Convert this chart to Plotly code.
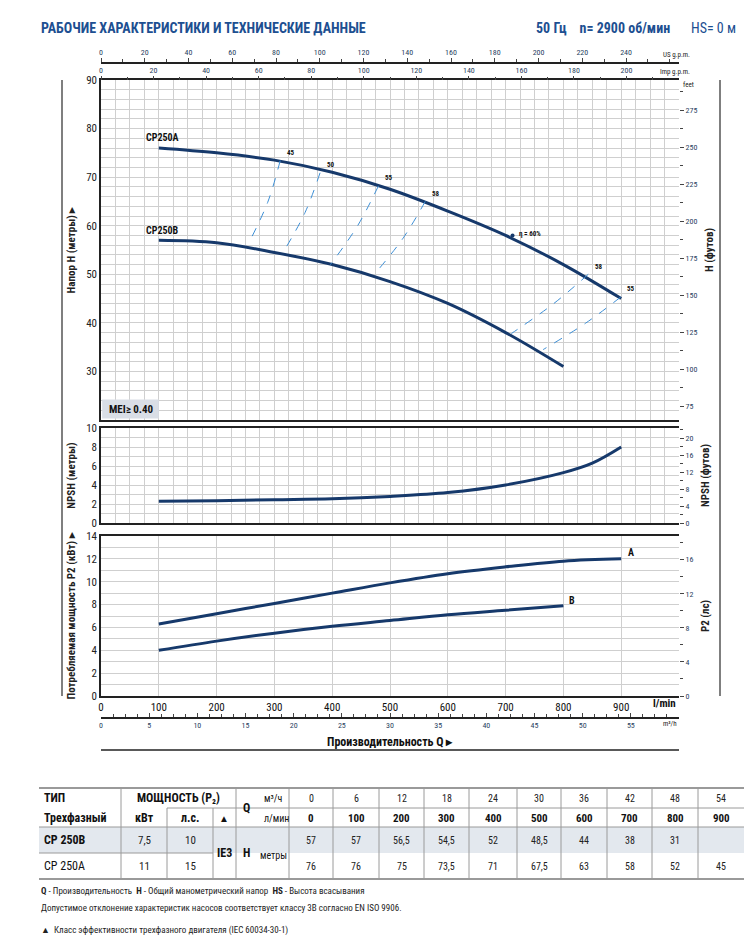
import plotly.graph_objects as go

# ---- data ----
q_h = [100, 200, 300, 400, 500, 600, 700, 800, 900]
h_A = [76, 75, 73.5, 71, 67.5, 63, 58, 52, 45]
q_hB = [100, 200, 300, 400, 500, 600, 700, 800]
h_B = [57, 56.5, 54.5, 52, 48.5, 44, 38, 31]
q_npsh = [100, 200, 300, 400, 500, 600, 700, 800, 850, 900]
npsh = [2.3, 2.35, 2.45, 2.55, 2.8, 3.2, 4.0, 5.3, 6.3, 8.0]
p2_A = [6.3, 7.2, 8.1, 9.0, 9.9, 10.7, 11.3, 11.8, 12.0]
p2_B = [4.0, 4.8, 5.5, 6.1, 6.6, 7.1, 7.5, 7.9]
eff_labels = ["45", "50", "55", "58", "58", "55"]
eff_A = [(310, 73.4), (379, 70.9), (480, 68.2), (561, 65.0), (843, 50.0), (899, 45.3)]
eff_B = [(255, 56.3), (315, 54.5), (397, 52.0), (473, 50.0), (710, 37.8), (765, 34.5)]

tbl_m3h = ["0", "6", "12", "18", "24", "30", "36", "42", "48", "54"]
tbl_lmin = ["0", "100", "200", "300", "400", "500", "600", "700", "800", "900"]
tbl_B = ["57", "57", "56,5", "54,5", "52", "48,5", "44", "38", "31", ""]
tbl_A = ["76", "76", "75", "73,5", "71", "67,5", "63", "58", "52", "45"]

NAVY = "#16396b"
BLUE = "#1d4f91"
DASH = "#3d8fd6"
GRID = "#cfcfcf"
FONT = "Liberation Sans Narrow, Roboto Condensed, Liberation Sans, Arial"

OX = 8  # page body margin
W, H = 754 - OX, 952 - OX
L, T = 101 - OX, 40 - OX
R = W - (679 - OX)
B = H - (752 - OX)
PW, PH = W - L - R, H - T - B

def px(x):
    return (x - OX - L) / PW

def py(y):
    return (H - B - (y - OX)) / PH

fig = go.Figure()
line = dict(color=NAVY, width=3, shape="spline")
fig.add_trace(go.Scatter(x=q_h, y=h_A, mode="lines", line=line, xaxis="x", yaxis="y"))
fig.add_trace(go.Scatter(x=q_hB, y=h_B, mode="lines", line=line, xaxis="x", yaxis="y"))
for (qa, ha), (qb, hb) in zip(eff_A, eff_B):
    fig.add_trace(go.Scatter(x=[qa, (qa + qb) / 2 + 6, qb], y=[ha, (ha + hb) / 2, hb], mode="lines",
                             line=dict(color=DASH, width=1, dash="dash", shape="spline"), xaxis="x", yaxis="y"))
fig.add_trace(go.Scatter(x=q_npsh, y=npsh, mode="lines", line=line, xaxis="x2", yaxis="y3"))
fig.add_trace(go.Scatter(x=q_h, y=p2_A, mode="lines", line=line, xaxis="x3", yaxis="y5"))
fig.add_trace(go.Scatter(x=q_hB, y=p2_B, mode="lines", line=line, xaxis="x3", yaxis="y5"))
fig.add_trace(go.Scatter(x=[712], y=[58], mode="markers", marker=dict(color=NAVY, size=4), xaxis="x", yaxis="y"))

# invisible anchors so overlay axes are drawn
for xa, ya, xv, yv in [("x4", "y", 10, 50), ("x5", "y", 10, 50), ("x6", "y5", 10, 5),
                       ("x", "y2", 500, 150), ("x2", "y4", 500, 5), ("x3", "y6", 500, 5)]:
    fig.add_trace(go.Scatter(x=[xv], y=[yv], mode="markers", marker=dict(opacity=0), hoverinfo="skip",
                             xaxis=xa, yaxis=ya))

d_top = [py(420), py(80)]
d_np = [py(523), py(428)]
d_p2 = [py(696), py(536)]
bf = dict(family=FONT, size=11, color="#222")

xbase = dict(range=[0, 1000], dtick=25, showgrid=True, gridcolor=GRID, gridwidth=1,
             showline=True, linecolor="#222", linewidth=1.5, mirror=True, zeroline=False,
             showticklabels=False, ticks="", automargin=False)
ybase = dict(showgrid=True, gridcolor=GRID, showline=True, linecolor="#222", linewidth=1.5,
             zeroline=False, ticks="", tickfont=bf, automargin=False)
rbase = dict(ticks="outside", ticklen=4, showgrid=False, tickfont=dict(family=FONT, size=8),
             zeroline=False, automargin=False, showline=False)
ft = 3.2808
layout = dict(
    width=W, height=H, margin=dict(l=L, r=R, t=T, b=B), showlegend=False,
    plot_bgcolor="white", paper_bgcolor="white", font=dict(family=FONT),
    xaxis=dict(xbase, anchor="y"),
    xaxis2=dict(xbase, anchor="y3", matches="x"),
    xaxis3=dict(xbase, anchor="y5", matches="x", showticklabels=True, tickvals=list(range(0, 1000, 100)),
                tickfont=dict(family=FONT, size=11, color="#111"), ticks="outside", ticklen=0),
    xaxis4=dict(range=[0, 1000 / 3.785], overlaying="x", anchor="free", position=py(63), side="top",
                tickvals=list(range(0, 260, 20)), ticks="outside", ticklen=4, tickfont=dict(family=FONT, size=8),
                showline=True, linecolor="#222", linewidth=1.5, showgrid=False, zeroline=False, automargin=False,
                minor=dict(dtick=10, ticks="outside", ticklen=3)),
    xaxis5=dict(range=[0, 1000 / 4.546], overlaying="x", anchor="free", position=py(80), side="top",
                tickvals=list(range(0, 220, 20)), ticks="outside", ticklen=4, tickfont=dict(family=FONT, size=8),
                showline=False, showgrid=False, zeroline=False, automargin=False,
                minor=dict(dtick=10, ticks="outside", ticklen=3)),
    xaxis6=dict(range=[0, 60], overlaying="x3", anchor="free", position=py(718), side="bottom",
                tickvals=list(range(0, 60, 5)), ticks="inside", ticklen=4, tickfont=dict(family=FONT, size=8),
                showline=True, linecolor="#222", linewidth=1.5, showgrid=False, zeroline=False, automargin=False,
                minor=dict(dtick=1.25, ticks="inside", ticklen=3)),
    yaxis=dict(ybase, domain=d_top, range=[20, 90], tickvals=list(range(30, 100, 10)), anchor="x",
               minor=dict(dtick=2, showgrid=True, gridcolor=GRID),
               title=dict(text="<b>Напор H (метры) ▸</b>", font=bf, standoff=8)),
    yaxis2=dict(rbase, range=[20 * ft, 90 * ft], overlaying="y", side="right", anchor="x",
                tickvals=list(range(75, 300, 25)), minor=dict(dtick=12.5, ticks="outside", ticklen=3),
                title=dict(text="<b>H (футов)</b>", font=bf, standoff=8)),
    yaxis3=dict(ybase, domain=d_np, range=[0, 10], dtick=2, anchor="x2",
                minor=dict(dtick=1, showgrid=True, gridcolor=GRID),
                title=dict(text="<b>NPSH (метры)</b>", font=bf, standoff=8)),
    yaxis4=dict(rbase, range=[0, 22.4], overlaying="y3", side="right", anchor="x2", tickvals=[0, 4, 8, 12, 16, 20],
                minor=dict(dtick=2, ticks="outside", ticklen=3),
                title=dict(text="<b>NPSH (футов)</b>", font=bf, standoff=8)),
    yaxis5=dict(ybase, domain=d_p2, range=[0, 14], dtick=2, anchor="x3",
                minor=dict(dtick=1, showgrid=True, gridcolor=GRID),
                title=dict(text="<b>Потребляемая мощность P2 (кВт) ▸</b>", font=bf, standoff=8)),
    yaxis6=dict(rbase, range=[0, 14 * 1.341], overlaying="y5", side="right", anchor="x3", tickvals=[0, 4, 8, 12, 16],
                minor=dict(dtick=2, ticks="outside", ticklen=3),
                title=dict(text="<b>P2 (лс)</b>", font=bf, standoff=8)),
)
fig.update_layout(**layout)

ann = []
shapes = []

def T_(x, y, text, size=10, bold=False, color="#222", xa="center", ya="middle", **kw):
    ann.append(dict(xref="paper", yref="paper", x=px(x), y=py(y), text=f"<b>{text}</b>" if bold else text,
                    showarrow=False, xanchor=xa, yanchor=ya, font=dict(family=FONT, size=size, color=color), **kw))

# header
T_(39, 28, "РАБОЧИЕ ХАРАКТЕРИСТИКИ И ТЕХНИЧЕСКИЕ ДАННЫЕ", 14, True, BLUE, "left")
T_(672, 28, "50 Гц    n= 2900 об/мин", 14, True, BLUE, "right")
T_(738, 28, "HS= 0 м", 14, False, BLUE, "right")
T_(692, 55, "US g.p.m.", 7, False, "#222", "right")
T_(692, 72, "Imp g.p.m.", 7, False, "#222", "right")
T_(681, 85, "feet", 7, False, "#222", "left")
T_(678, 703, "l/min", 11, True, "#111", "right")
T_(679, 724, "m³/h", 7, False, "#222", "right")
T_(390, 742, "Производительность Q ▸", 12, True, "#111")
shapes.append(dict(type="line", xref="paper", yref="paper", x0=px(101), x1=px(679), y0=py(750), y1=py(750),
                   line=dict(color="#222", width=1.5)))
for xx in (62, 720):
    shapes.append(dict(type="line", xref="paper", yref="paper", x0=px(xx), x1=px(xx), y0=py(80), y1=py(696),
                       line=dict(color="#555", width=1.5)))

# curve labels
def D(x, y, text, size=9, xa="center"):
    ann.append(dict(xref="x", yref="y", x=x, y=y, text=f"<b>{text}</b>", showarrow=False, xanchor=xa,
                    font=dict(family=FONT, size=size, color="#111")))
D(75, 78.2, "CP250A", 10, "left")
D(75, 59.1, "CP250B", 10, "left")
for (qa, ha), lab in zip(eff_A, eff_labels):
    D(qa + 8, ha + 1.6, lab, 7, "left")
D(720, 58.3, "η = 60%", 7, "left")
ann.append(dict(xref="x3", yref="y5", x=908, y=12.6, text="<b>A</b>", showarrow=False, xanchor="left",
                font=dict(family=FONT, size=10, color="#111")))
ann.append(dict(xref="x3", yref="y5", x=807, y=8.4, text="<b>B</b>", showarrow=False, xanchor="left",
                font=dict(family=FONT, size=10, color="#111")))
shapes.append(dict(type="rect", xref="x", yref="y", x0=2, x1=100, y0=20.3, y1=24.2,
                   fillcolor="#d9dee6", line=dict(width=0)))
D(10, 22.2, "MEI≥ 0.40", 11, "left")

# table
cols = [39, 121, 167, 213, 236, 289, 333, 379, 424, 469, 517, 561, 607, 652, 698, 744]
shapes.append(dict(type="rect", xref="paper", yref="paper", x0=px(39), x1=px(744), y0=py(853), y1=py(827),
                   fillcolor="#e3e8ee", line=dict(width=0), layer="below"))
for yy, w in ((788, 2), (827, 1), (879, 2)):
    shapes.append(dict(type="line", xref="paper", yref="paper", x0=px(39), x1=px(744), y0=py(yy), y1=py(yy),
                       line=dict(color="#9a9a9a", width=w)))
shapes.append(dict(type="line", xref="paper", yref="paper", x0=px(39), x1=px(213), y0=py(853), y1=py(853),
                   line=dict(color="#9a9a9a", width=1)))
shapes.append(dict(type="line", xref="paper", yref="paper", x0=px(167), x1=px(744), y0=py(808), y1=py(808),
                   line=dict(color="#9a9a9a", width=1)))
for c in cols[1:-1]:
    top = 808 if c in (167, 213) else 788
    shapes.append(dict(type="line", xref="paper", yref="paper", x0=px(c), x1=px(c), y0=py(top), y1=py(879),
                       line=dict(color="#9a9a9a", width=1)))
T_(42, 798, "ТИП", 12, True, "#111", "left")
T_(42, 818, "Трехфазный", 12, True, "#111", "left")
T_(178, 798, "МОЩНОСТЬ (P₂)", 12, True, "#111")
T_(144, 818, "кВт", 12, True, "#111")
T_(190, 818, "л.с.", 12, True, "#111")
T_(224, 818, "▲", 10, False, "#111")
T_(246, 808, "Q", 12, True, "#111")
T_(262, 798, "м³/ч", 10, False, "#111", "left")
T_(262, 818, "л/мин", 10, False, "#111", "left")
T_(42, 840, "CP 250B", 12, True, "#111", "left")
T_(42, 866, "CP 250A", 12, False, "#111", "left")
T_(144, 840, "7,5", 11); T_(190, 840, "10", 11)
T_(144, 866, "11", 11); T_(190, 866, "15", 11)
T_(224, 853, "IE3", 12, True, "#111")
T_(246, 853, "H", 12, True, "#111")
T_(258, 856, "метры", 10, False, "#111", "left")
for i in range(10):
    cx = (cols[5 + i] + cols[6 + i]) / 2
    T_(cx, 798, tbl_m3h[i], 10)
    T_(cx, 818, tbl_lmin[i], 11, True, "#111")
    T_(cx, 840, tbl_B[i], 10)
    T_(cx, 866, tbl_A[i], 10)
T_(39, 891, "<b>Q</b> - Производительность  <b>H</b> - Общий манометрический напор  <b>HS</b> - Высота всасывания", 9, False, "#222", "left")
T_(39, 908, "Допустимое отклонение характеристик насосов соответствует классу 3B согласно EN ISO 9906.", 9, False, "#222", "left")
T_(39, 930, "▲  Класс эффективности трехфазного двигателя (IEC 60034-30-1)", 9, False, "#222", "left")

fig.update_layout(annotations=ann, shapes=shapes)
fig.write_html("out.html")
